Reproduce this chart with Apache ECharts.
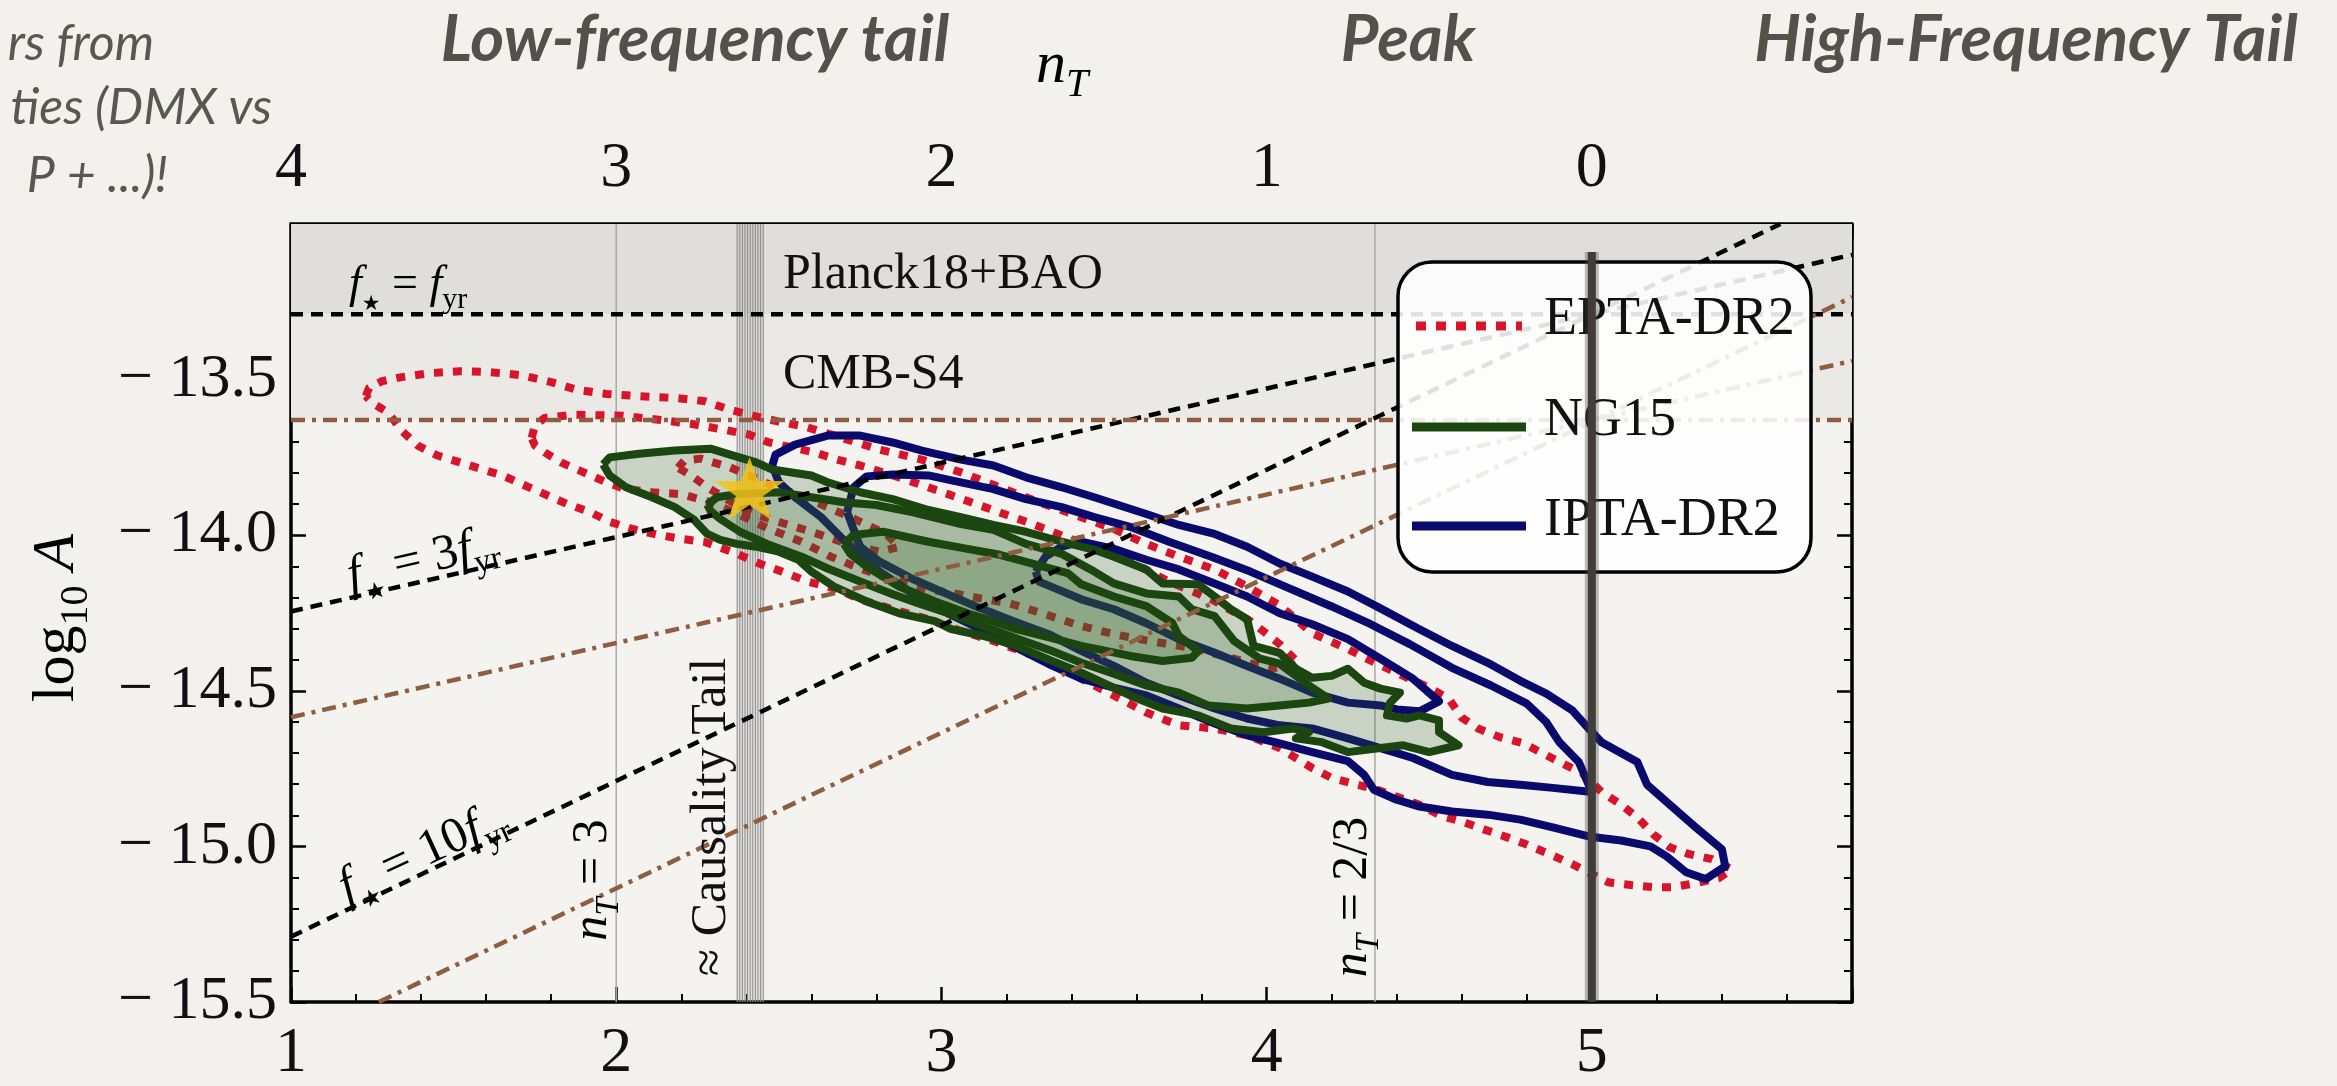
<!DOCTYPE html>
<html>
<head>
<meta charset="utf-8">
<script src="https://cdn.jsdelivr.net/npm/echarts@6/dist/echarts.min.js"></script>
<style>
html, body { margin: 0; padding: 0; background: #f2f1ee; }
#chart { width: 2337px; height: 1086px; }
</style>
</head>
<body>
<div id="chart"></div>
<script>
// ---- data (alpha on bottom axis, log10 A on left axis) ----
var eptaOuter = [[1.23,-13.553],[1.24,-13.527],[1.28,-13.505],[1.34,-13.492],[1.43,-13.479],[1.52,-13.473],[1.61,-13.476],[1.71,-13.486],[1.80,-13.508],[1.88,-13.533],[1.97,-13.546],[2.07,-13.553],[2.18,-13.559],[2.27,-13.569],[2.35,-13.597],[2.42,-13.616],[2.50,-13.635],[2.58,-13.651],[2.69,-13.686],[2.81,-13.725],[2.94,-13.757],[3.06,-13.798],[3.18,-13.846],[3.30,-13.894],[3.43,-13.942],[3.53,-13.980],[3.63,-14.028],[3.73,-14.069],[3.84,-14.110],[3.94,-14.165],[4.04,-14.225],[4.14,-14.315],[4.25,-14.366],[4.31,-14.398],[4.42,-14.452],[4.50,-14.490],[4.56,-14.525],[4.60,-14.586],[4.65,-14.621],[4.72,-14.650],[4.79,-14.669],[4.86,-14.707],[4.92,-14.739],[4.97,-14.764],[5.03,-14.825],[5.09,-14.866],[5.14,-14.907],[5.19,-14.962],[5.24,-15.003],[5.30,-15.025],[5.37,-15.041],[5.43,-15.073],[5.39,-15.102],[5.32,-15.118],[5.25,-15.131],[5.19,-15.131],[5.12,-15.124],[5.05,-15.115],[5.00,-15.089],[4.94,-15.057],[4.87,-15.025],[4.80,-14.994],[4.74,-14.971],[4.67,-14.946],[4.60,-14.920],[4.54,-14.904],[4.47,-14.866],[4.41,-14.844],[4.34,-14.818],[4.26,-14.796],[4.20,-14.780],[4.14,-14.748],[4.09,-14.716],[4.04,-14.684],[3.94,-14.643],[3.84,-14.621],[3.73,-14.611],[3.63,-14.570],[3.53,-14.515],[3.43,-14.461],[3.37,-14.420],[3.26,-14.378],[3.16,-14.340],[3.06,-14.308],[2.96,-14.270],[2.85,-14.238],[2.75,-14.206],[2.68,-14.174],[2.59,-14.149],[2.51,-14.117],[2.44,-14.091],[2.37,-14.059],[2.27,-14.021],[2.20,-14.012],[2.13,-13.999],[2.05,-13.980],[1.98,-13.957],[1.92,-13.926],[1.85,-13.900],[1.78,-13.868],[1.71,-13.836],[1.65,-13.808],[1.59,-13.789],[1.52,-13.766],[1.45,-13.744],[1.39,-13.712],[1.34,-13.664],[1.30,-13.607],[1.25,-13.575],[1.23,-13.553]];
var eptaMid = [[1.74,-13.687],[1.75,-13.648],[1.78,-13.623],[1.87,-13.613],[2.02,-13.616],[2.13,-13.629],[2.23,-13.642],[2.33,-13.661],[2.41,-13.677],[2.47,-13.702],[2.61,-13.734],[2.68,-13.757],[2.75,-13.776],[2.87,-13.814],[3.02,-13.868],[3.15,-13.916],[3.28,-13.964],[3.42,-14.021],[3.48,-14.044],[3.58,-14.085],[3.70,-14.149],[3.83,-14.206],[3.95,-14.276],[4.04,-14.350],[4.10,-14.413],[4.01,-14.429],[3.89,-14.394],[3.77,-14.362],[3.64,-14.340],[3.53,-14.318],[3.43,-14.292],[3.31,-14.251],[3.21,-14.219],[3.12,-14.203],[3.04,-14.187],[2.96,-14.174],[2.85,-14.142],[2.75,-14.107],[2.66,-14.069],[2.57,-14.021],[2.47,-13.980],[2.38,-13.935],[2.29,-13.894],[2.20,-13.868],[2.11,-13.862],[2.03,-13.852],[1.97,-13.830],[1.90,-13.798],[1.83,-13.766],[1.78,-13.734],[1.75,-13.712],[1.74,-13.687]];
var eptaInner = [[2.19,-13.783],[2.21,-13.760],[2.26,-13.754],[2.35,-13.782],[2.47,-13.836],[2.60,-13.887],[2.72,-13.942],[2.83,-13.996],[2.87,-14.037],[2.81,-14.053],[2.72,-14.031],[2.60,-13.989],[2.47,-13.948],[2.38,-13.910],[2.28,-13.846],[2.23,-13.808],[2.19,-13.783]];

var ng15Outer = [[1.96,-13.773],[1.98,-13.750],[2.07,-13.738],[2.18,-13.728],[2.29,-13.722],[2.35,-13.741],[2.43,-13.766],[2.48,-13.789],[2.60,-13.808],[2.65,-13.830],[2.75,-13.862],[2.85,-13.884],[2.96,-13.919],[3.06,-13.942],[3.16,-13.967],[3.26,-13.989],[3.37,-14.021],[3.47,-14.047],[3.53,-14.069],[3.63,-14.110],[3.68,-14.155],[3.79,-14.158],[3.84,-14.197],[3.89,-14.238],[3.94,-14.270],[3.96,-14.356],[4.04,-14.378],[4.09,-14.429],[4.14,-14.458],[4.20,-14.452],[4.25,-14.429],[4.30,-14.474],[4.35,-14.493],[4.41,-14.506],[4.38,-14.538],[4.37,-14.579],[4.43,-14.589],[4.47,-14.579],[4.53,-14.595],[4.53,-14.633],[4.59,-14.675],[4.50,-14.697],[4.42,-14.675],[4.35,-14.684],[4.25,-14.697],[4.17,-14.665],[4.09,-14.653],[4.13,-14.633],[4.08,-14.621],[3.99,-14.633],[3.89,-14.621],[3.79,-14.579],[3.68,-14.557],[3.58,-14.515],[3.43,-14.442],[3.34,-14.404],[3.23,-14.356],[3.13,-14.324],[3.03,-14.302],[2.98,-14.276],[2.87,-14.251],[2.77,-14.213],[2.67,-14.165],[2.60,-14.117],[2.56,-14.079],[2.50,-14.053],[2.43,-14.037],[2.37,-14.028],[2.32,-14.015],[2.28,-13.996],[2.24,-13.951],[2.18,-13.910],[2.11,-13.878],[2.03,-13.846],[1.98,-13.808],[1.96,-13.773]];
var ng15Mid = [[2.28,-13.902],[2.31,-13.878],[2.37,-13.868],[2.50,-13.862],[2.60,-13.878],[2.70,-13.894],[2.80,-13.903],[2.91,-13.926],[3.06,-13.964],[3.16,-13.983],[3.26,-14.028],[3.37,-14.060],[3.47,-14.117],[3.53,-14.155],[3.63,-14.187],[3.73,-14.197],[3.77,-14.238],[3.84,-14.260],[3.90,-14.340],[3.98,-14.397],[4.04,-14.413],[4.09,-14.452],[4.14,-14.490],[4.19,-14.525],[4.13,-14.538],[4.04,-14.547],[3.94,-14.557],[3.82,-14.547],[3.73,-14.506],[3.63,-14.483],[3.53,-14.445],[3.43,-14.410],[3.34,-14.372],[3.23,-14.331],[3.13,-14.293],[3.03,-14.254],[2.93,-14.219],[2.85,-14.190],[2.75,-14.149],[2.65,-14.107],[2.57,-14.069],[2.47,-14.031],[2.38,-13.989],[2.32,-13.948],[2.29,-13.922],[2.28,-13.902]];
var ng15Inner = [[2.70,-14.028],[2.73,-13.999],[2.82,-13.989],[2.96,-14.021],[3.08,-14.044],[3.18,-14.063],[3.28,-14.091],[3.39,-14.123],[3.43,-14.158],[3.53,-14.197],[3.63,-14.228],[3.71,-14.282],[3.73,-14.324],[3.79,-14.372],[3.77,-14.394],[3.68,-14.404],[3.58,-14.388],[3.48,-14.366],[3.43,-14.356],[3.34,-14.331],[3.23,-14.302],[3.14,-14.270],[3.08,-14.251],[2.98,-14.213],[2.87,-14.165],[2.77,-14.101],[2.72,-14.060],[2.70,-14.028]];

var iptaOuter = [[2.48,-13.776],[2.49,-13.741],[2.55,-13.709],[2.65,-13.680],[2.75,-13.680],[2.85,-13.702],[2.94,-13.728],[3.06,-13.757],[3.16,-13.776],[3.26,-13.814],[3.37,-13.846],[3.47,-13.878],[3.63,-13.932],[3.73,-13.967],[3.84,-13.996],[3.94,-14.037],[4.04,-14.091],[4.14,-14.133],[4.25,-14.181],[4.35,-14.235],[4.47,-14.302],[4.57,-14.356],[4.68,-14.410],[4.78,-14.468],[4.86,-14.509],[4.94,-14.563],[4.99,-14.621],[5.03,-14.665],[5.14,-14.729],[5.17,-14.802],[5.24,-14.866],[5.32,-14.939],[5.40,-15.009],[5.41,-15.064],[5.35,-15.105],[5.29,-15.083],[5.23,-15.032],[5.18,-15.000],[5.09,-14.981],[4.99,-14.968],[4.88,-14.939],[4.78,-14.914],[4.68,-14.898],[4.57,-14.888],[4.47,-14.872],[4.40,-14.850],[4.33,-14.818],[4.30,-14.770],[4.25,-14.726],[4.14,-14.697],[4.04,-14.669],[3.94,-14.643],[3.84,-14.605],[3.73,-14.557],[3.63,-14.515],[3.53,-14.490],[3.43,-14.461],[3.33,-14.414],[3.22,-14.356],[3.12,-14.302],[3.02,-14.251],[2.91,-14.187],[2.81,-14.117],[2.72,-14.037],[2.63,-13.942],[2.55,-13.878],[2.50,-13.830],[2.48,-13.776]];
var iptaMid = [[2.71,-13.926],[2.73,-13.846],[2.77,-13.811],[2.85,-13.805],[2.96,-13.808],[3.06,-13.830],[3.16,-13.852],[3.26,-13.884],[3.37,-13.910],[3.47,-13.942],[3.58,-13.973],[3.70,-14.021],[3.83,-14.069],[3.95,-14.117],[4.07,-14.171],[4.20,-14.229],[4.32,-14.286],[4.44,-14.350],[4.57,-14.426],[4.69,-14.483],[4.80,-14.541],[4.86,-14.601],[4.90,-14.665],[4.96,-14.729],[5.00,-14.825],[4.88,-14.812],[4.78,-14.802],[4.68,-14.793],[4.57,-14.770],[4.45,-14.716],[4.35,-14.684],[4.25,-14.653],[4.14,-14.621],[4.04,-14.611],[3.94,-14.589],[3.84,-14.557],[3.73,-14.515],[3.63,-14.474],[3.53,-14.420],[3.43,-14.372],[3.33,-14.318],[3.22,-14.276],[3.12,-14.235],[3.02,-14.190],[2.91,-14.140],[2.81,-14.085],[2.75,-14.037],[2.71,-13.926]];
var iptaInner = [[3.29,-14.117],[3.32,-14.069],[3.37,-14.037],[3.43,-14.021],[3.53,-14.044],[3.63,-14.079],[3.73,-14.110],[3.84,-14.155],[3.94,-14.197],[4.04,-14.251],[4.14,-14.286],[4.25,-14.334],[4.35,-14.397],[4.45,-14.461],[4.53,-14.534],[4.47,-14.566],[4.40,-14.560],[4.35,-14.547],[4.25,-14.538],[4.14,-14.506],[4.04,-14.461],[3.94,-14.420],[3.84,-14.378],[3.73,-14.334],[3.63,-14.283],[3.53,-14.238],[3.43,-14.206],[3.35,-14.171],[3.30,-14.149],[3.29,-14.117]];

var bestFit = [[2.41, -13.85]];

// reference lines: f* = f_yr, 3 f_yr, 10 f_yr (black) and CMB-S4 versions (brown)
var fyrLine = [[1, -13.29], [5.8, -13.29]];
var f3Line = [[1, -14.245], [5.8, -13.099]];
var f10Line = [[1, -15.29], [5.58, -13.0]];
var cmbLine = [[1, -13.63], [5.8, -13.63]];
var cmb3Line = [[1, -14.585], [5.8, -13.44]];
var cmb10Line = [[1.27, -15.5], [5.8, -13.235]];

// shaded bands [xmin, ymin, xmax, ymax]: Planck18+BAO, CMB-S4
var bands = [[1, -13.29, 5.8, -13.0], [1, -13.63, 5.8, -13.29]];
var causalityBand = [[2.37, -15.5, 2.455, -13.0]];
var causalityLines = [2.372, 2.380, 2.388, 2.396, 2.404, 2.412, 2.420, 2.428, 2.436, 2.444, 2.452];
var nTLines = [2, 4.333];
var peakLine = [[5, -13.09], [5, -15.5]];
var yRange = [-15.5, -13.0];

var SERIF = '"Liberation Serif", "DejaVu Serif", serif';
var SANS = 'Lato, "Open Sans", sans-serif';
var RED = '#d8142b', GREEN = '#1b4610', NAVY = '#0a0a6c';

function mathRich(s) {
  var lh = Math.round(s * 1.3);
  var sub = Math.round(s * 0.66);
  return {
    i: { fontFamily: SERIF, fontStyle: 'italic', fontSize: s, lineHeight: lh, color: '#111' },
    r: { fontFamily: SERIF, fontSize: s, lineHeight: lh, color: '#111' },
    si: { fontFamily: SERIF, fontStyle: 'italic', fontSize: sub, lineHeight: sub, verticalAlign: 'bottom', color: '#111' },
    sr: { fontFamily: SERIF, fontSize: sub, lineHeight: sub, verticalAlign: 'bottom', color: '#111' },
    ss: { fontFamily: '"DejaVu Sans", sans-serif', fontSize: Math.round(s * 0.46), lineHeight: sub, verticalAlign: 'bottom', color: '#111' }
  };
}

function outline(name, pts, color, dashed, z) {
  return {
    name: name, type: 'line', data: pts, z: z, silent: true,
    showSymbol: false, symbol: 'none', animation: false,
    lineStyle: { color: color, width: 8, type: dashed ? [9, 10] : 'solid', join: 'round' }
  };
}
function refLine(pts, color, dash, z) {
  return {
    type: 'line', data: pts, z: z, silent: true, showSymbol: false, symbol: 'none',
    lineStyle: { color: color, width: 4.5, type: dash }
  };
}
function fill(pts, z) {
  return {
    type: 'custom', z: z, silent: true, data: [pts[0]],
    renderItem: function (params, api) {
      return {
        type: 'polygon',
        shape: { points: pts.map(function (p) { return api.coord(p); }) },
        style: { fill: 'rgba(50,100,40,0.22)' }
      };
    }
  };
}

function xAxisCfg(pos, fmt, margin) {
  return {
    type: 'value', position: pos, min: 1, max: 5.8, interval: 1,
    axisLine: { show: true, onZero: false, lineStyle: { color: '#000', width: 3.5 } },
    axisTick: { show: true, inside: true, length: 15, lineStyle: { color: '#000', width: 2.5 } },
    minorTick: { show: true, splitNumber: 5, length: 8, lineStyle: { color: '#000', width: 2 } },
    splitLine: { show: false },
    axisLabel: { show: true, formatter: fmt, margin: margin, fontFamily: SERIF, fontSize: 64, color: '#111' }
  };
}
function yAxisCfg(pos, showLabel) {
  return {
    type: 'value', position: pos, min: -15.5, max: -13.0, interval: 0.5,
    axisLine: { show: true, onZero: false, lineStyle: { color: '#000', width: 3.5 } },
    axisTick: { show: true, inside: true, length: 15, lineStyle: { color: '#000', width: 2.5 } },
    minorTick: { show: true, splitNumber: 5, length: 8, lineStyle: { color: '#000', width: 2 } },
    splitLine: { show: false },
    axisLabel: {
      show: showLabel, margin: 14, fontFamily: SERIF, fontSize: 62, color: '#111',
      formatter: function (v) { return v > -13.01 ? '' : '\u2212 ' + Math.abs(v).toFixed(1); }
    }
  };
}

var chart = echarts.init(document.getElementById('chart'));

var headerStyle = { fontFamily: SANS, fontStyle: 'italic', fontWeight: 'bold', fontSize: 65, fill: '#54514a', align: 'center', verticalAlign: 'middle' };
var noteStyle = { fontFamily: SANS, fontStyle: 'italic', fontSize: 50, fill: '#5a5750', align: 'right', verticalAlign: 'middle' };
function txt(x, y, style, rot) {
  return { type: 'text', x: x, y: y, rotation: rot || 0, z: 55, silent: true, style: style };
}
function mtxt(x, y, text, size, align, rot) {
  return txt(x, y, { text: text, rich: mathRich(size), align: align, verticalAlign: 'middle' }, rot);
}
function ptxt(x, y, text, size, align, rot) {
  return txt(x, y, { text: text, fontFamily: SERIF, fontSize: size, fill: '#111', align: align, verticalAlign: 'middle' }, rot);
}

var option = {
  backgroundColor: '#f2f1ee',
  animation: false,
  grid: { left: 291, right: 485, top: 224, bottom: 77, show: true, backgroundColor: '#f4f3f0', borderWidth: 0 },
  xAxis: [
    xAxisCfg('bottom', function (v) { return Number.isInteger(v) ? String(v) : ''; }, 20),
    xAxisCfg('top', function (v) { return Number.isInteger(v) ? String(5 - v) : ''; }, 23)
  ],
  yAxis: [yAxisCfg('left', true), yAxisCfg('right', false)],
  series: [
    {
      type: 'custom', z: 1, silent: true, data: bands, encode: { x: [0, 2], y: [1, 3] },
      renderItem: function (params, api) {
        var a = api.coord([api.value(0), api.value(3)]);
        var b = api.coord([api.value(2), api.value(1)]);
        return { type: 'rect', shape: { x: a[0], y: a[1], width: b[0] - a[0], height: b[1] - a[1] },
          style: { fill: ['#e0deda', '#ebe9e5'][params.dataIndex] } };
      }
    },
    {
      type: 'custom', z: 2, silent: true, data: causalityBand, encode: { x: [0, 2], y: [1, 3] },
      renderItem: function (params, api) {
        var a = api.coord([api.value(0), api.value(3)]);
        var b = api.coord([api.value(2), api.value(1)]);
        return { type: 'rect', shape: { x: a[0], y: a[1], width: b[0] - a[0], height: b[1] - a[1] },
          style: { fill: 'rgba(150,150,148,0.22)' } };
      }
    },
    {
      type: 'custom', z: 2, silent: true, data: causalityLines.map(function (a) { return [a]; }),
      renderItem: function (params, api) {
        var a = api.coord([api.value(0), yRange[0]]);
        var b = api.coord([api.value(0), yRange[1]]);
        return { type: 'line', shape: { x1: a[0], y1: a[1], x2: b[0], y2: b[1] }, style: { stroke: '#8d8d8b', lineWidth: 1 } };
      }
    },
    {
      type: 'custom', z: 2, silent: true, data: nTLines.map(function (a) { return [a]; }),
      renderItem: function (params, api) {
        var a = api.coord([api.value(0), yRange[0]]);
        var b = api.coord([api.value(0), yRange[1]]);
        return { type: 'line', shape: { x1: a[0], y1: a[1], x2: b[0], y2: b[1] }, style: { stroke: '#a9a9a7', lineWidth: 1.5 } };
      }
    },
    outline('EPTA-DR2', eptaOuter, RED, true, 3),
    outline('EPTA-DR2', eptaMid, RED, true, 3),
    outline('EPTA-DR2', eptaInner, RED, true, 3),
    outline('IPTA-DR2', iptaOuter, NAVY, false, 3),
    outline('IPTA-DR2', iptaMid, NAVY, false, 3),
    outline('IPTA-DR2', iptaInner, NAVY, false, 3),
    fill(ng15Outer, 4),
    fill(ng15Mid, 4),
    fill(ng15Inner, 4),
    outline('NG15', ng15Outer, GREEN, false, 5),
    outline('NG15', ng15Mid, GREEN, false, 5),
    outline('NG15', ng15Inner, GREEN, false, 5),
    refLine(fyrLine, '#000', [12, 8], 6),
    refLine(f3Line, '#000', [12, 8], 6),
    refLine(f10Line, '#000', [12, 8], 6),
    refLine(cmbLine, '#8f5d3f', [14, 7, 4, 7], 6),
    refLine(cmb3Line, '#8f5d3f', [14, 7, 4, 7], 6),
    refLine(cmb10Line, '#8f5d3f', [14, 7, 4, 7], 6),
    {
      type: 'scatter', z: 7, silent: true, data: bestFit,
      symbol: 'path://M50,0 L61.8,34.5 L97.6,34.5 L68.5,56 L79.4,90.5 L50,69 L20.6,90.5 L31.5,56 L2.4,34.5 L38.2,34.5 Z',
      symbolSize: [70, 66], symbolKeepAspect: true,
      itemStyle: { color: '#f2c318', opacity: 0.85 }
    },
    { type: 'line', data: peakLine, z: 59, silent: true, showSymbol: false, symbol: 'none',
      lineStyle: { color: 'rgba(70,67,64,0.35)', width: 14 } },
    { type: 'line', data: peakLine, z: 60, silent: true, showSymbol: false, symbol: 'none',
      lineStyle: { color: '#403d3a', width: 8 } }
  ],
  graphic: [
    // headers
    txt(695, 40, Object.assign({ text: 'Low-frequency tail' }, headerStyle)),
    txt(1408, 40, Object.assign({ text: 'Peak' }, headerStyle)),
    txt(2026, 40, Object.assign({ text: 'High-Frequency Tail' }, headerStyle)),
    txt(154, 44, Object.assign({ text: 'rs from' }, noteStyle)),
    txt(272, 108, Object.assign({ text: 'ties (DMX vs' }, noteStyle)),
    txt(168, 176, Object.assign({ text: 'P + ...)!' }, noteStyle)),
    // axis names
    mtxt(1062, 66, '{i|n}{si|T}', 60, 'center'),
    mtxt(57, 618, '{r|log}{sr|10}{r| }{i|A}', 60, 'center', Math.PI / 2),
    // in-plot annotations
    mtxt(349, 285, '{i|f}{ss|\u2605}{r| = }{i|f}{sr|yr}', 46, 'left'),
    ptxt(783, 275, 'Planck18+BAO', 50, 'left'),
    ptxt(783, 375, 'CMB-S4', 50, 'left'),
    mtxt(423, 560, '{i|f}{ss|\u2605}{r| = 3}{i|f}{sr|yr}', 50, 'center', 0.227),
    mtxt(423, 853, '{i|f}{ss|\u2605}{r| = 10}{i|f}{sr|yr}', 50, 'center', 0.43),
    mtxt(593, 880, '{i|n}{si|T}{r| = 3}', 50, 'center', Math.PI / 2),
    ptxt(712, 817, '\u2248 Causality Tail', 50, 'center', Math.PI / 2),
    mtxt(1353, 897, '{i|n}{si|T}{r| = 2/3}', 50, 'center', Math.PI / 2),
    // legend box
    { type: 'rect', z: 50, silent: true, shape: { x: 1398, y: 262, width: 413, height: 310, r: 34 },
      style: { fill: 'rgba(255,255,255,0.88)', stroke: '#000', lineWidth: 3.5 } },
    { type: 'line', z: 51, silent: true, shape: { x1: 1416, y1: 326, x2: 1522, y2: 326 },
      style: { stroke: RED, lineWidth: 9, lineDash: [10, 10] } },
    { type: 'line', z: 51, silent: true, shape: { x1: 1412, y1: 427, x2: 1526, y2: 427 },
      style: { stroke: GREEN, lineWidth: 9 } },
    { type: 'line', z: 51, silent: true, shape: { x1: 1412, y1: 526, x2: 1526, y2: 526 },
      style: { stroke: NAVY, lineWidth: 9 } },
    ptxt(1544, 320, 'EPTA-DR2', 54, 'left'),
    ptxt(1544, 421, 'NG15', 54, 'left'),
    ptxt(1544, 521, 'IPTA-DR2', 54, 'left')
  ]
};
chart.setOption(option);
</script>
</body>
</html>
